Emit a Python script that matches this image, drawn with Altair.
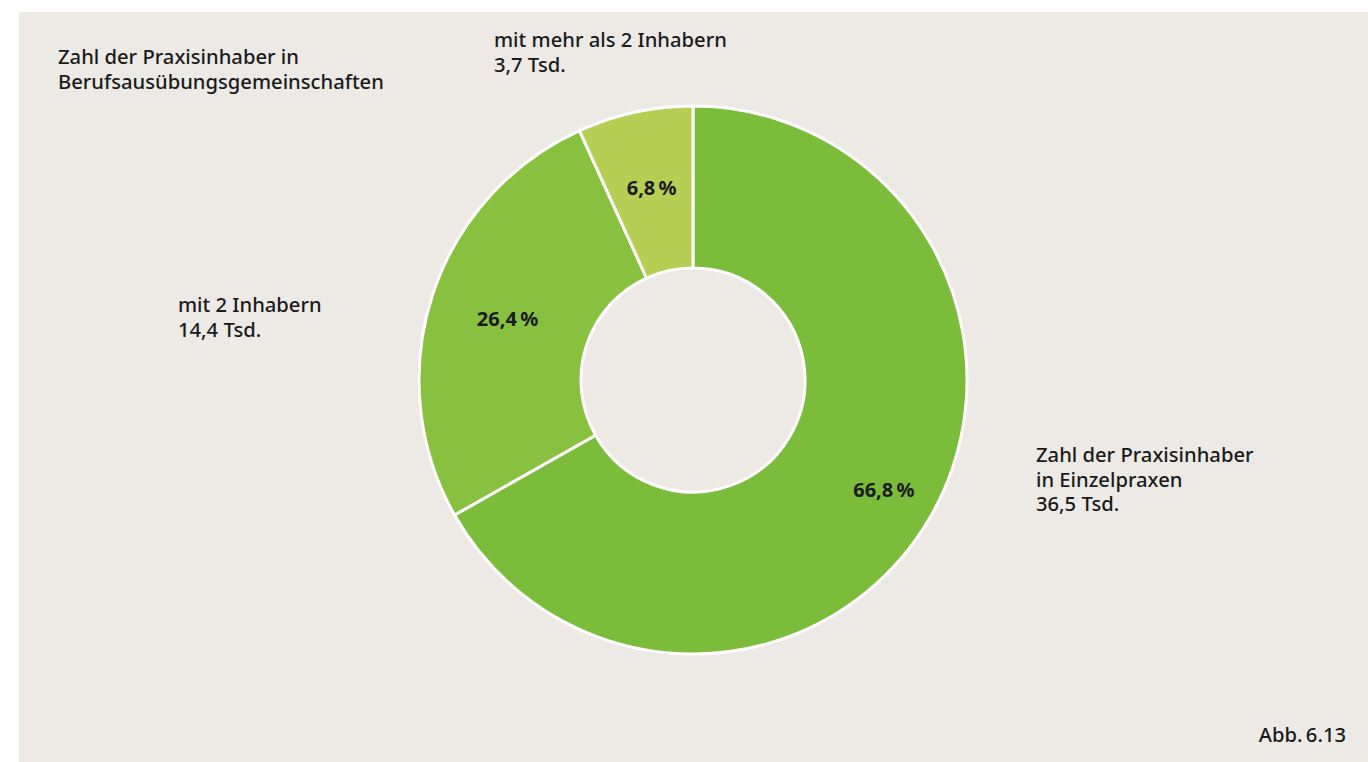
import altair as alt
import pandas as pd

categories = ["Einzelpraxen", "mit 2 Inhabern", "mit mehr als 2 Inhabern"]
shares = [66.8, 26.4, 6.8]
share_labels = ["66,8\u202f%", "26,4\u202f%", "6,8\u202f%"]
order = [1, 2, 3]
colors = ["#7bbd3b", "#88c140", "#b6ce53"]

note_lines = [
    ["Zahl der Praxisinhaber in", "Berufsausübungsgemeinschaften"],
    ["mit mehr als 2 Inhabern", "3,7 Tsd."],
    ["mit 2 Inhabern", "14,4 Tsd."],
    ["Zahl der Praxisinhaber", "in Einzelpraxen", "36,5 Tsd."],
    ["Abb.\u202f6.13"],
]

df = pd.DataFrame({"cat": categories, "share": shares, "label": share_labels, "ord": order})

CX, CY = 693, 380
R_OUT, R_IN = 274, 112
FONT = "Noto Sans"
FS = 20.2
LH = 24.5

panel = alt.Chart(pd.DataFrame({"p": [0]})).mark_rect(color="#edeae6").encode(
    x=alt.value(19), x2=alt.value(1368), y=alt.value(12), y2=alt.value(762)
)

base = alt.Chart(df).encode(
    theta=alt.Theta("share:Q", stack=True, scale=alt.Scale(range=[0, 6.283185307])),
    order=alt.Order("ord:Q"),
)

arcs = base.mark_arc(outerRadius=R_OUT, innerRadius=R_IN, stroke="white", strokeWidth=3).encode(
    x=alt.value(CX), y=alt.value(CY),
    color=alt.Color("cat:N", scale=alt.Scale(domain=categories, range=colors), legend=None),
)

def pct(radius, cats):
    return base.mark_text(radius=radius, font=FONT, fontSize=20, fontWeight="bold", color="#1a1a1a").encode(
        x=alt.value(CX), y=alt.value(CY), text="label:N",
        opacity=alt.condition(alt.FieldOneOfPredicate(field="cat", oneOf=cats), alt.value(1), alt.value(0)),
    )

pct_big = pct(221, ["Einzelpraxen"])
pct_small = pct(195, ["mit 2 Inhabern", "mit mehr als 2 Inhabern"])

def note(lines, x, y, align="left"):
    out = []
    for i, line in enumerate(lines):
        out.append(alt.Chart(pd.DataFrame({"t": [line]})).mark_text(
            align=align, baseline="alphabetic", font=FONT, fontSize=FS, fontWeight=500,
            color="#1a1a1a",
        ).encode(x=alt.value(x), y=alt.value(y + i * LH), text="t:N"))
    return out

anchors = [(58, 64, "left"), (494, 47, "left"), (178, 312, "left"), (1036, 462, "left"), (1346, 742, "right")]
notes = []
for lines, (x, y, a) in zip(note_lines, anchors):
    notes += note(lines, x, y, a)

chart = alt.layer(panel, arcs, pct_big, pct_small, *notes).properties(
    width=1368, height=762, autosize="none", padding=0, background="#ffffff"
).configure_view(stroke=None)

chart.save("out.html", embed_options={"renderer": "svg", "actions": False})
